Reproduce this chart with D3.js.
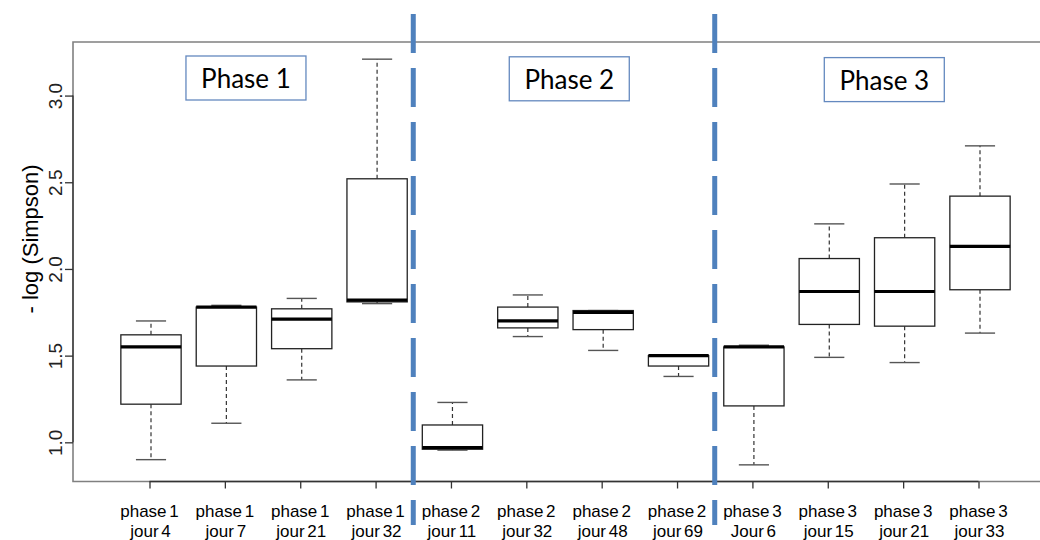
<!DOCTYPE html>
<html lang="fr">
<head>
<meta charset="utf-8">
<title>- log (Simpson) par phase</title>
<script src="https://cdnjs.cloudflare.com/ajax/libs/d3/7.8.5/d3.min.js"></script>
<style>
    body { margin: 0; background: #fff; }
    svg { display: block; font-family: "Liberation Sans", Arial, sans-serif; }
    .frame { fill: none; stroke: #808080; stroke-width: 1.6; }
    .axis path, .axis line { stroke: #333; stroke-width: 1.3; }
    .axis text { fill: #222; }
    .box { fill: #fff; stroke: #222; stroke-width: 1.3; }
    .median { stroke: #000; stroke-width: 3.2; }
    .whisker { stroke: #333; stroke-width: 1.2; stroke-dasharray: 4 3; }
    .staple { stroke: #555; stroke-width: 1.4; }
    .sep { stroke: #4f81bd; stroke-width: 5; stroke-dasharray: 39 15; }
    .phaseBox { fill: #fff; stroke: #6489bf; stroke-width: 1.3; }
    .phaseText { font-family: Lato, "Open Sans", sans-serif; font-size: 26px; fill: #000; }
</style>
</head>
<body>
<svg id="chart" width="1040" height="540"></svg>
<script>
// box labels (two lines under each box)
const labelTop = ["phase 1", "phase 1", "phase 1", "phase 1",
                  "phase 2", "phase 2", "phase 2", "phase 2",
                  "phase 3", "phase 3", "phase 3", "phase 3"];
const labelBottom = ["jour 4", "jour 7", "jour 21", "jour 32",
                     "jour 11", "jour 32", "jour 48", "jour 69",
                     "Jour 6", "jour 15", "jour 21", "jour 33"];

// boxplot stats
const whiskerHigh = [1.70, 1.79, 1.83, 3.21, 1.23, 1.85, 1.76, 1.50, 1.56, 2.26, 2.49, 2.71];
const q3          = [1.62, 1.78, 1.77, 2.52, 1.10, 1.78, 1.76, 1.50, 1.55, 2.06, 2.18, 2.42];
const median      = [1.55, 1.78, 1.71, 1.82, 0.97, 1.70, 1.75, 1.50, 1.55, 1.87, 1.87, 2.13];
const q1          = [1.22, 1.44, 1.54, 1.81, 0.96, 1.66, 1.65, 1.44, 1.21, 1.68, 1.67, 1.88];
const whiskerLow  = [0.90, 1.11, 1.36, 1.80, 0.955, 1.61, 1.53, 1.38, 0.87, 1.49, 1.46, 1.63];

const yTicks = [1.0, 1.5, 2.0, 2.5, 3.0];
const phaseNames = ["Phase 1", "Phase 2", "Phase 3"];
const phaseBreaks = [4.5, 8.5];

const svg = d3.select("#chart");
const W = 1040, H = 540;
svg.append("rect").attr("width", W).attr("height", H).attr("fill", "#fff");

// plot region
const pLeft = 73, pTop = 42, pBottom = 481.5, pRight = 1052;

const x = d3.scaleLinear().domain([1, 12]).range([149.5, 978.5]);
const y = d3.scaleLinear().domain([0.774, 3.309]).range([pBottom, pTop]);

const boxW = 0.8 * (x(2) - x(1));
const data = labelTop.map((t, i) => ({
    pos: i + 1, top: t, bot: labelBottom[i],
    lo: whiskerLow[i], q1: q1[i], med: median[i], q3: q3[i], hi: whiskerHigh[i]
}));

// frame (no right side visible, it runs off the picture)
svg.append("path").attr("class", "frame")
    .attr("d", `M${pRight},${pTop}H${pLeft}V${pBottom}H${pRight}`);

// y axis
const yAxis = svg.append("g").attr("class", "axis")
    .attr("transform", `translate(${pLeft},0)`)
    .call(d3.axisLeft(y).tickValues(yTicks).tickSize(8).tickSizeOuter(0).tickFormat(d3.format(".1f")));
yAxis.select(".domain").attr("d", `M0,${y(yTicks[0])}V${y(yTicks[yTicks.length - 1])}`);
yAxis.selectAll("text")
    .attr("transform", "rotate(-90)")
    .attr("x", 0).attr("y", -11).attr("dy", 0)
    .style("text-anchor", "middle")
    .style("font-size", "19px");

svg.append("text")
    .attr("transform", `translate(38,${(y(1.0) + y(3.0)) / 2 - 30}) rotate(-90)`)
    .attr("text-anchor", "middle")
    .style("font-size", "22px")
    .text("- log (Simpson)");

// x axis
const xAxis = svg.append("g").attr("class", "axis")
    .attr("transform", `translate(0,${pBottom})`)
    .call(d3.axisBottom(x).tickValues(d3.range(1, 13)).tickSize(7).tickSizeOuter(0).tickFormat(""));
xAxis.select(".domain").attr("d", `M${x(1)},0H${x(12)}`);

const lab = svg.append("g").style("font-size", "17px").attr("text-anchor", "middle");
lab.selectAll(".l1").data(data).join("text")
    .attr("x", d => x(d.pos)).attr("y", 517)
    .style("word-spacing", "-2px")
    .text(d => d.top);
lab.selectAll(".l2").data(data).join("text")
    .attr("x", d => x(d.pos) + 1).attr("y", 537)
    .style("word-spacing", "-2px")
    .text(d => d.bot);

// boxes
const g = svg.append("g").selectAll("g").data(data).join("g")
    .attr("transform", d => `translate(${x(d.pos) + 1.5},0)`);
g.append("line").attr("class", "whisker")
    .attr("y1", d => y(d.q3)).attr("y2", d => y(d.hi));
g.append("line").attr("class", "whisker")
    .attr("y1", d => y(d.q1)).attr("y2", d => y(d.lo));
g.append("line").attr("class", "staple")
    .attr("x1", -boxW / 4).attr("x2", boxW / 4)
    .attr("y1", d => y(d.hi)).attr("y2", d => y(d.hi));
g.append("line").attr("class", "staple")
    .attr("x1", -boxW / 4).attr("x2", boxW / 4)
    .attr("y1", d => y(d.lo)).attr("y2", d => y(d.lo));
g.append("rect").attr("class", "box")
    .attr("x", -boxW / 2).attr("width", boxW)
    .attr("y", d => y(d.q3)).attr("height", d => y(d.q1) - y(d.q3));
g.append("line").attr("class", "median")
    .attr("x1", -boxW / 2).attr("x2", boxW / 2)
    .attr("y1", d => y(d.med)).attr("y2", d => y(d.med));

// phase separators
svg.selectAll(".sep").data(phaseBreaks).join("line")
    .attr("class", "sep")
    .attr("x1", d => x(d)).attr("x2", d => x(d))
    .attr("y1", 14).attr("y2", 525);

// phase name boxes
const phaseX = [2.28, 6.57, 10.75];
const pb = svg.selectAll(".pb").data(phaseNames).join("g")
    .attr("transform", (d, i) => `translate(${x(phaseX[i])},${56 + i * 0.8})`);
pb.append("rect").attr("class", "phaseBox")
    .attr("x", -60).attr("y", 0).attr("width", 120).attr("height", 44);
pb.append("text").attr("class", "phaseText")
    .attr("text-anchor", "middle").attr("y", 32)
    .text(d => d);
</script>
</body>
</html>
